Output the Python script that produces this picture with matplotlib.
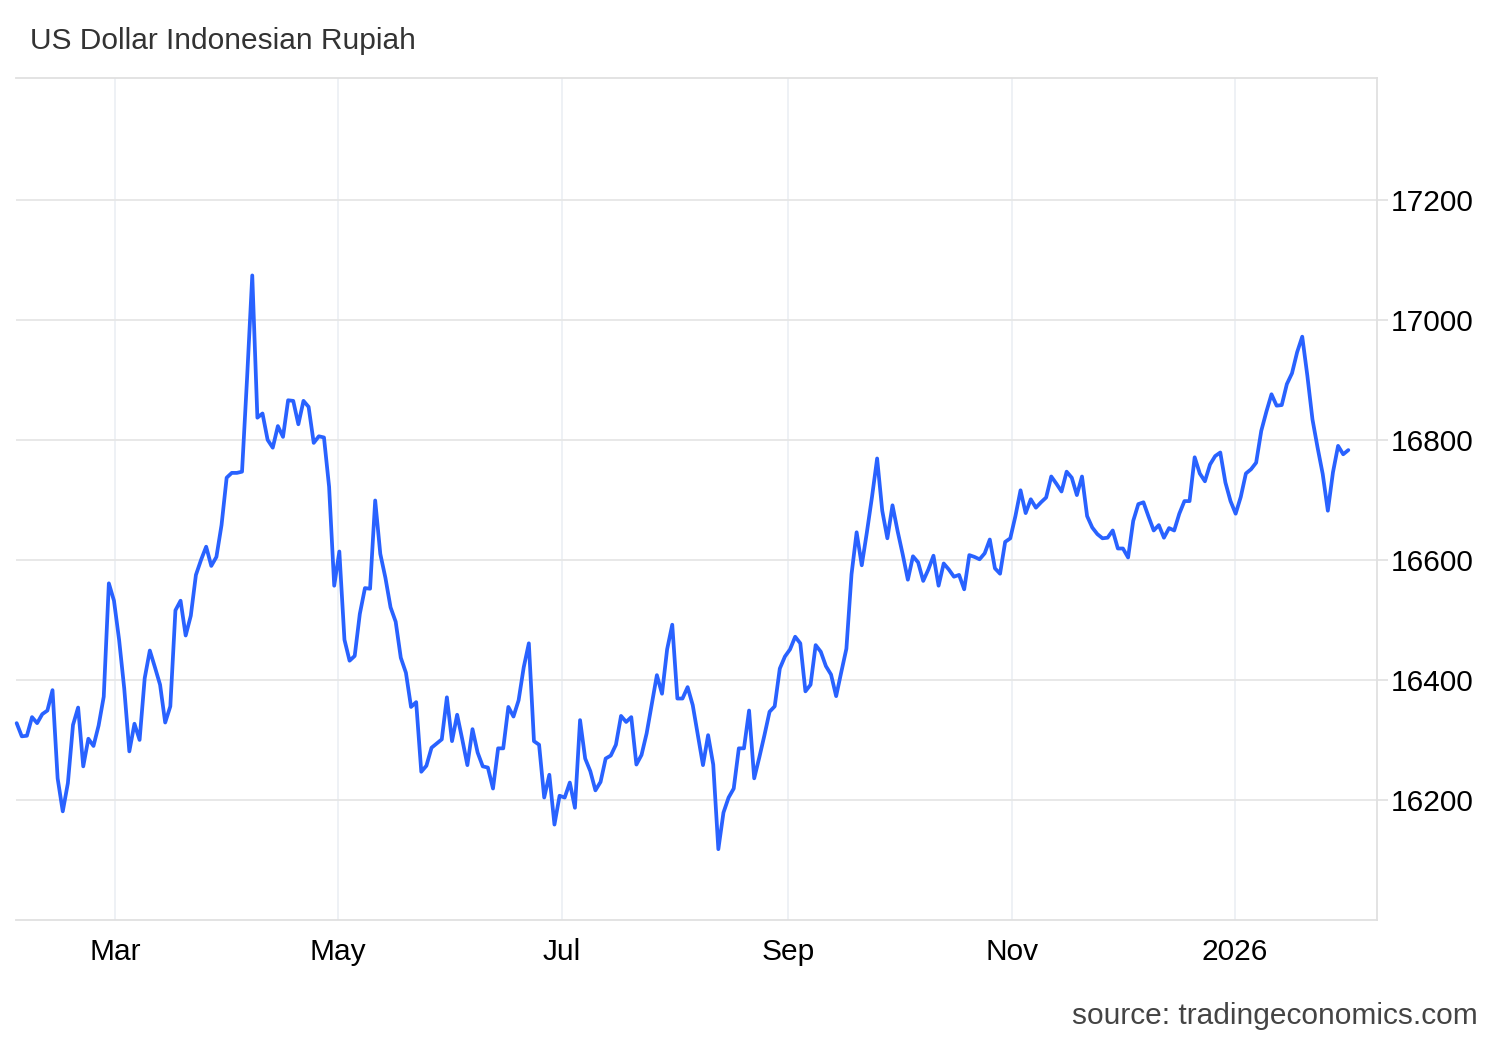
import matplotlib
matplotlib.use("Agg")
import matplotlib.pyplot as plt
import matplotlib.dates as mdates
from matplotlib.ticker import FuncFormatter, FixedLocator
import numpy as np
import pandas as pd

plt.rcParams['font.family'] = ['Liberation Sans', 'DejaVu Sans']

# USD/IDR daily closes (trading days, evenly spaced)
feb_mar = [16328, 16306, 16307, 16338, 16328, 16343, 16349, 16383, 16236, 16181,
           16228, 16325, 16354, 16256, 16302, 16290, 16324, 16372, 16561, 16532,
           16467, 16386, 16281, 16327, 16300, 16403, 16449, 16421, 16392, 16329,
           16356, 16516, 16532, 16474, 16507, 16575]
mar_apr = [16600, 16622, 16590, 16605, 16658, 16737, 16745, 16745, 16747]
apr_jun = [16905, 17074, 16837, 16844, 16800, 16787, 16823, 16805, 16866, 16865,
           16826, 16865, 16855, 16795, 16806, 16804, 16722, 16557, 16614, 16467,
           16432, 16440, 16510, 16553, 16552, 16699, 16610, 16570, 16521, 16497,
           16437, 16412, 16355, 16363, 16247, 16257, 16287, 16294, 16301, 16371]
jun_aug = [16298, 16342, 16301, 16258, 16318, 16279, 16256, 16254, 16219, 16286,
           16286, 16355, 16339, 16366, 16421, 16461, 16298, 16292, 16204, 16242,
           16159, 16207, 16204, 16229, 16187, 16333, 16269, 16248, 16216, 16230,
           16269, 16274, 16292, 16340, 16330, 16338, 16259, 16275, 16311, 16359,
           16408, 16377, 16451, 16492, 16369, 16369, 16388]
aug_oct = [16358, 16308, 16258, 16308, 16259, 16118, 16179, 16204, 16219, 16286,
           16286, 16349, 16236, 16271, 16308, 16347, 16356, 16419, 16439, 16451,
           16472, 16461, 16381, 16392, 16458, 16447, 16423, 16409, 16373, 16413,
           16452, 16576, 16646, 16591, 16646, 16705, 16769, 16682, 16636, 16691]
oct_dec = [16648, 16609, 16567, 16606, 16596, 16565, 16584, 16607, 16557, 16594,
           16584, 16572, 16575, 16551, 16608, 16605, 16601, 16611, 16634, 16586,
           16577, 16630, 16636, 16673, 16716, 16678, 16701, 16687, 16696, 16704,
           16739, 16727, 16714, 16747, 16737, 16708, 16739, 16673, 16654, 16643,
           16636, 16637, 16649, 16619, 16619, 16604]
dec_feb = [16665, 16693, 16696, 16672, 16649, 16658, 16637, 16653, 16649, 16677,
           16698, 16698, 16771, 16744, 16731, 16759, 16773, 16779, 16729, 16698,
           16677, 16705, 16744, 16751, 16762, 16815, 16847, 16876, 16857, 16858,
           16893, 16911, 16946, 16972, 16907, 16834, 16787, 16743, 16682, 16746,
           16790, 16776, 16783]

values = feb_mar + mar_apr + apr_jun + jun_aug + aug_oct + oct_dec + dec_feb
first_date = "2025-02-02 03:00"
last_date = "2026-01-31 23:00"
dates = pd.date_range(first_date, last_date, periods=len(values))

y_ticks = [16200, 16400, 16600, 16800, 17000, 17200]
title = "US Dollar Indonesian Rupiah"
source = "source: tradingeconomics.com"

fig = plt.figure(figsize=(15, 10.4), dpi=100)
ax = fig.add_axes([0.0107, 0.1154, 0.918 - 0.0107, 0.925 - 0.1154])

ax.plot(dates, values, color="#2962ff", linewidth=2.7, solid_joinstyle="round",
        solid_capstyle="round", zorder=3, clip_on=False)

ax.set_xlim(pd.Timestamp("2025-02-01 23:00"), pd.Timestamp("2026-02-08 19:00"))
ax.set_ylim(16000, 17403)

ax.yaxis.set_major_locator(FixedLocator(y_ticks))
ax.yaxis.tick_right()
ax.yaxis.set_label_position("right")
ax.tick_params(axis="y", which="major", length=8, width=1.2, color="#e0e0e0",
               labelsize=21.5, labelcolor="#000000", pad=2)

ax.xaxis.set_major_locator(mdates.MonthLocator(bymonth=[1, 3, 5, 7, 9, 11]))


def fmt(x, pos):
    d = mdates.num2date(x)
    return str(d.year) if d.month == 1 else d.strftime("%b")


ax.xaxis.set_major_formatter(FuncFormatter(fmt))
ax.tick_params(axis="x", which="major", length=0, labelsize=21.5,
               labelcolor="#000000", pad=13)

ax.grid(axis="y", color="#e6e6e6", linewidth=1.3, zorder=0)
ax.grid(axis="x", color="#edf0f4", linewidth=1.3, zorder=0)

for side in ["top", "right", "bottom"]:
    ax.spines[side].set_color("#e0e0e0")
    ax.spines[side].set_linewidth(1.3)
ax.spines["left"].set_visible(False)

fig.text(0.02, 0.9605, title, fontsize=21.5, color="#333333",
         ha="left", va="center")
fig.text(0.985, 0.023, source, fontsize=21.5, color="#444444",
         ha="right", va="center")

fig.savefig("out.png", dpi=100, facecolor="white")
